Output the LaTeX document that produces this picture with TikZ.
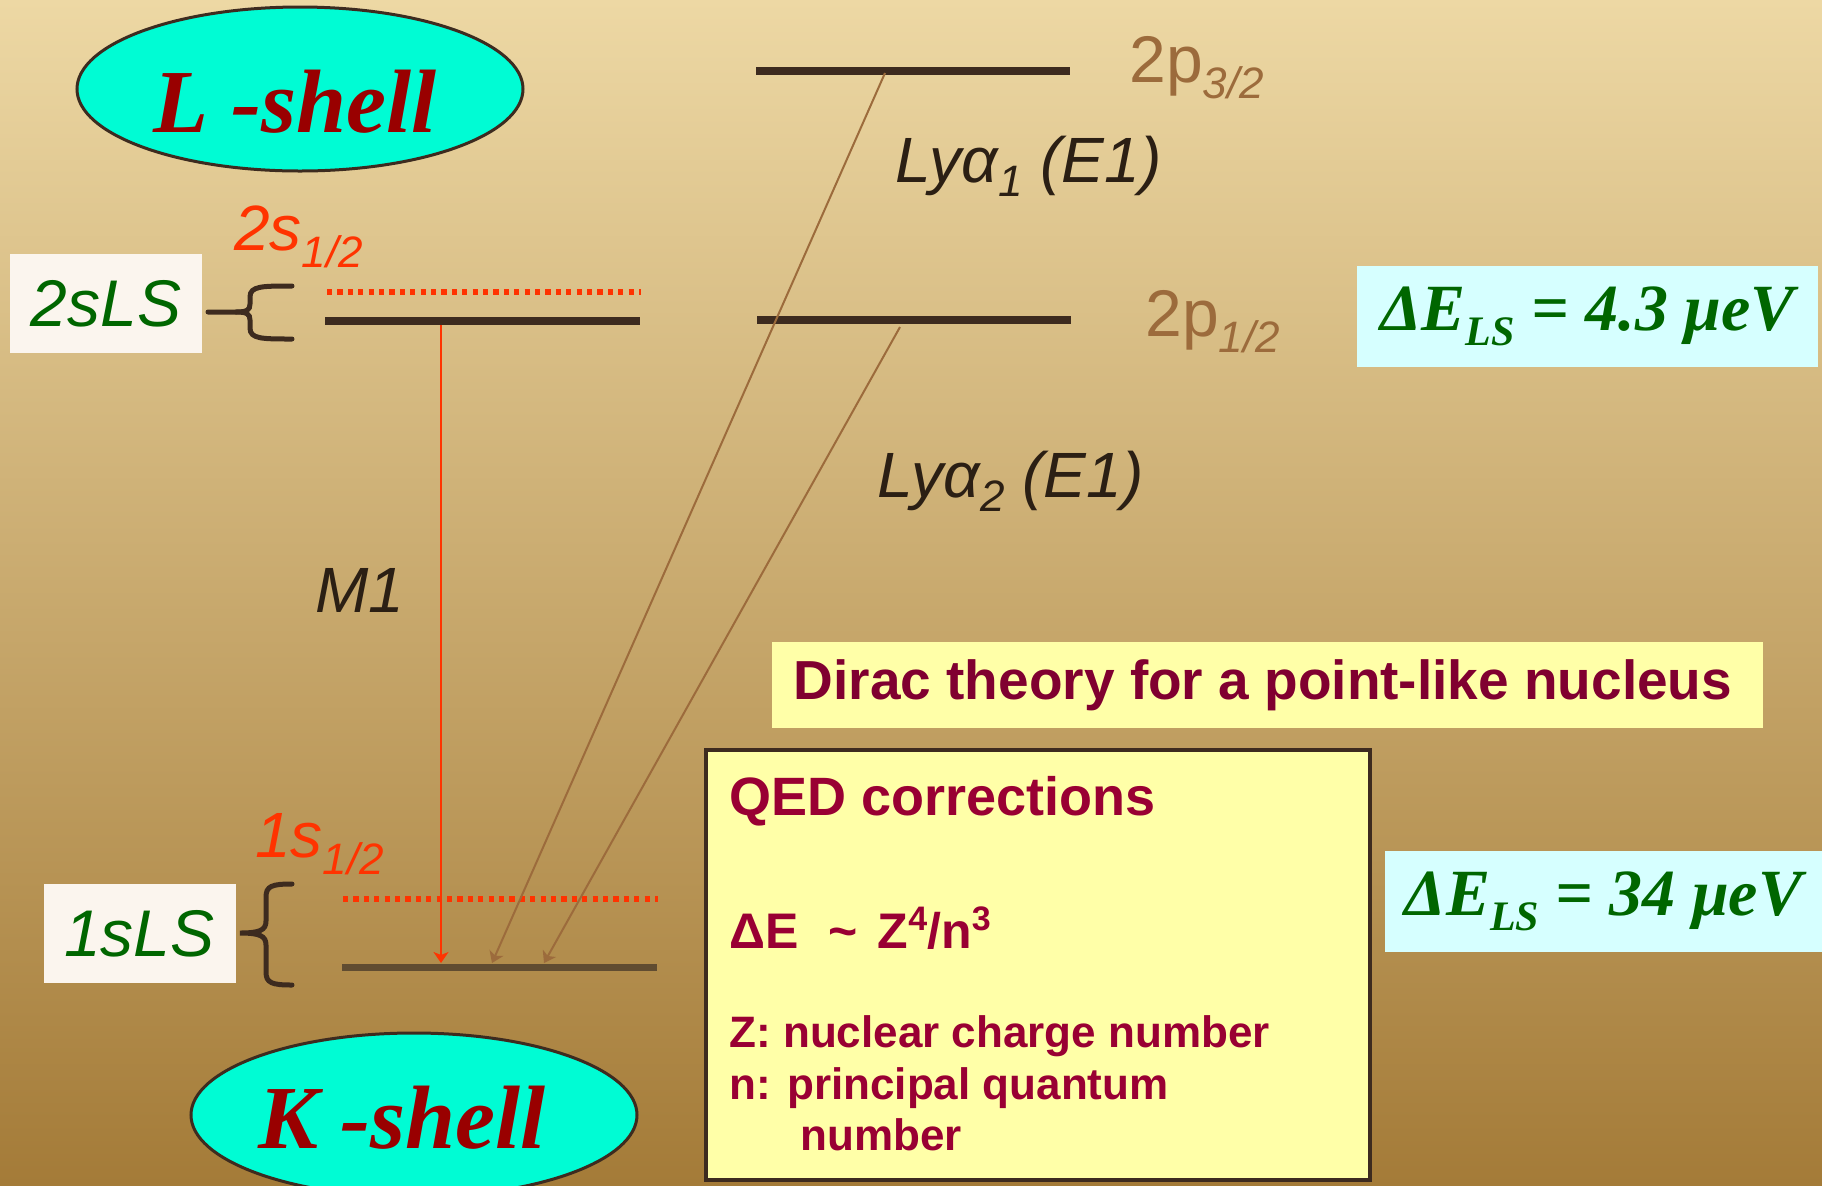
\documentclass[tikz,border=0pt]{standalone}
\usepackage{fontspec}
\setmainfont{Liberation Serif}
\setsansfont{Liberation Sans}
\newfontfamily\arialf{Liberation Sans}
\newfontfamily\timesf{Liberation Serif}
\usetikzlibrary{shapes.geometric,arrows.meta}
\definecolor{bgtop}{HTML}{EDD8A4}
\definecolor{bgbot}{HTML}{A47B38}
\definecolor{shellfill}{HTML}{00FCD4}
\definecolor{shelltxt}{HTML}{990000}
\definecolor{darkbr}{HTML}{3D2B1F}
\definecolor{lowbr}{HTML}{604C31}
\definecolor{redlev}{HTML}{FF3300}
\definecolor{brownlab}{HTML}{9C6B3C}
\definecolor{labdark}{HTML}{2B1F14}
\definecolor{grn}{HTML}{006600}
\definecolor{whitebox}{HTML}{FBF5EE}
\definecolor{cyanbox}{HTML}{D6FFFF}
\definecolor{yelbox}{HTML}{FFFFA8}
\definecolor{maroon}{HTML}{800030}
\definecolor{qedtxt}{HTML}{990033}
\newcommand{\fs}[1]{\fontsize{#1pt}{#1pt}\selectfont}
\newcommand{\lowsub}[3]{\raisebox{-#3pt}{\fs{#2}#1}}
\newcommand{\highsup}[3]{\raisebox{#3pt}{\fs{#2}#1}}
\begin{document}
\begin{tikzpicture}[x=0.5pt,y=-0.5pt,
  shell/.style={ellipse,draw=darkbr,line width=1.5pt,fill=shellfill,minimum width=223pt,minimum height=82pt,inner sep=0pt},
  shelltext/.style={anchor=base,inner sep=0pt,text=shelltxt,font=\timesf\bfseries\itshape\fs{45}},
  level/.style={line width=4pt,draw=darkbr},
  lowlevel/.style={line width=3.5pt,draw=lowbr},
  dotlev/.style={line width=3pt,draw=redlev,dash pattern=on 2.6pt off 2.6pt},
  lbl/.style={anchor=base west,inner sep=0pt},
  lsbox/.style={fill=whitebox,minimum width=96pt,minimum height=49.5pt,inner sep=0pt,text=grn,font=\arialf\itshape\fs{33}},
  debox/.style={fill=cyanbox,inner sep=0pt,text=grn,font=\timesf\bfseries\itshape\fs{33}},
  brace/.style={line width=2.5pt,draw=darkbr,line cap=round},
  redarrow/.style={draw=redlev,line width=1pt,-{Stealth[length=5.5pt,width=7.5pt,inset=1.5pt]}},
  brarrow/.style={draw=brownlab,line width=1pt,-{Stealth[length=5.5pt,width=7.5pt,inset=1.5pt]}},
  qedline/.style={lbl,text=qedtxt,font=\arialf\bfseries}
]
\useasboundingbox (0,0) rectangle (1822,1185);
\shade[top color=bgtop,bottom color=bgbot] (0,0) rectangle (1822,1185);

% shells
\node[shell] (Lsh) at (300,89) {};
\node[shelltext] (Ltxt) at (295,132) {L -shell};
\node[shell] (Ksh) at (414,1115) {};
\node[shelltext] (Ktxt) at (402,1148) {K -shell};

% Lamb shift boxes
\node[lsbox] (b2s) at (106,303.5) {2sLS};
\node[lsbox] (b1s) at (139.5,933.5) {1sLS};

% braces
\draw[brace] (292,286) .. controls (262,286) and (250,286) .. (250,297) -- (250,304)
  .. controls (250,310) and (247,312) .. (236,312) -- (208,312);
\draw[brace] (236,312) .. controls (247,312) and (250,314) .. (250,320) -- (250,328)
  .. controls (250,339) and (262,339) .. (292,339);
\draw[brace] (292,884) .. controls (272,884) and (266,886) .. (266,897) -- (266,921)
  .. controls (266,930) and (260,933) .. (240,933)
  .. controls (260,933) and (266,936) .. (266,945) -- (266,972)
  .. controls (266,983) and (272,985) .. (292,985);

% levels
\coordinate (s2a) at (325,321); \coordinate (s2b) at (640,321);
\coordinate (s2da) at (327,292); \coordinate (s2db) at (641,292);
\coordinate (p32a) at (756,71); \coordinate (p32b) at (1070,71);
\coordinate (p12a) at (757,320); \coordinate (p12b) at (1071,320);
\coordinate (s1a) at (342,967); \coordinate (s1b) at (657,967);
\coordinate (s1da) at (343,899); \coordinate (s1db) at (658,899);
\draw[level] (s2a) -- (s2b);
\draw[dotlev] (s2da) -- (s2db);
\draw[level] (p32a) -- (p32b);
\draw[level] (p12a) -- (p12b);
\draw[lowlevel] (s1a) -- (s1b);
\draw[dotlev] (s1da) -- (s1db);

% transitions
\coordinate (m1top) at (441,325); \coordinate (m1bot) at (441,963);
\coordinate (ly1top) at (885,73); \coordinate (ly1bot) at (492,963);
\coordinate (ly2top) at (900,327); \coordinate (ly2bot) at (544,963);
\draw[redarrow] (m1top) -- (m1bot);
\draw[brarrow] (ly1top) -- (ly1bot);
\draw[brarrow] (ly2top) -- (ly2bot);

% level labels
\node[lbl,text=redlev,font=\arialf\itshape\fs{32}] (t2s) at (234,250) {2s\lowsub{1/2}{22}{8.5}};
\node[lbl,text=redlev,font=\arialf\itshape\fs{32}] (t1s) at (255,857) {1s\lowsub{1/2}{22}{8.5}};
\node[lbl,text=brownlab,font=\arialf\fs{33}] (t2p3) at (1129,82) {2p\lowsub{\itshape 3/2}{22}{8}};
\node[lbl,text=brownlab,font=\arialf\fs{33}] (t2p1) at (1145,336) {2p\lowsub{\itshape 1/2}{22}{8}};
\node[lbl,text=labdark,font=\arialf\itshape\fs{32}] (tly1) at (895,182) {Lyα\lowsub{1}{22}{7} (E1)};
\node[lbl,text=labdark,font=\arialf\itshape\fs{32}] (tly2) at (877,497) {Lyα\lowsub{2}{22}{7} (E1)};
\node[lbl,text=labdark,font=\arialf\itshape\fs{32}] (tm1) at (315,612) {M1};

% energy boxes
\node[debox,minimum width=230.5pt,minimum height=50.5pt] (de1) at (1587.5,316.5) {ΔE\lowsub{LS}{21}{7.5} = 4.3 μeV};
\node[debox,minimum width=218.5pt,minimum height=50.5pt] (de2) at (1603.5,901.5) {ΔE\lowsub{LS}{21}{7.5} = 34 μeV};

% Dirac box
\node[fill=yelbox,minimum width=495.5pt,minimum height=43pt,inner sep=0pt] (dirac) at (1267.5,685) {};
\node[inner sep=0pt,text=maroon,font=\arialf\bfseries\fs{27.5}] (dtxt) at (1263,685) {Dirac theory for a point-like nucleus};

% QED box
\node[draw=darkbr,line width=2pt,fill=yelbox,minimum width=332pt,minimum height=215pt,inner sep=0pt] (qed) at (1038,965) {};
\node[qedline,font=\arialf\bfseries\fs{27}] (q1) at (729,815) {QED corrections};
\node[qedline,font=\arialf\bfseries\fs{25}] (q2) at (729,948) {ΔE\hspace{15pt}\textasciitilde\hspace{10pt}Z\highsup{4}{17}{9}/n\highsup{3}{17}{9}};
\node[qedline,font=\arialf\bfseries\fs{22}] (q3) at (729,1047) {Z: nuclear charge number};
\node[qedline,font=\arialf\bfseries\fs{22}] (q4) at (729,1099) {n: principal quantum};
\node[qedline,font=\arialf\bfseries\fs{22}] (q5) at (800,1150) {number};
\end{tikzpicture}
\end{document}
